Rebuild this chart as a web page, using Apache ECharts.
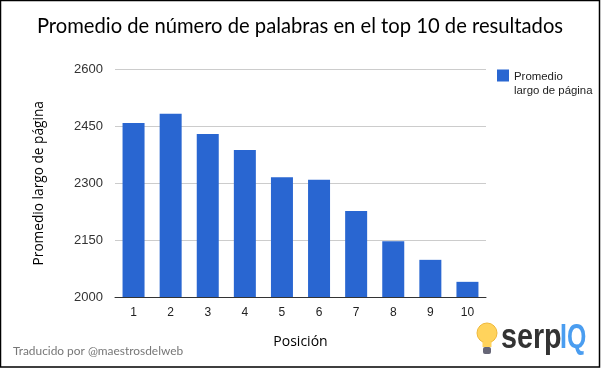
<!DOCTYPE html>
<html><head><meta charset="utf-8">
<style>html,body{margin:0;padding:0;background:#fff}#c{width:601px;height:368px}</style>
<script src="https://cdn.jsdelivr.net/npm/echarts@6/dist/echarts.min.js"></script>
</head><body><div id="c"></div>
<script>
const categories = ['1','2','3','4','5','6','7','8','9','10'];
const promedio = [2459,2483,2430,2388,2316,2309,2227,2147,2098,2040];
const chart = echarts.init(document.getElementById('c'), null, {renderer:'canvas'});
chart.setOption({
  animation:false,
  backgroundColor:'#fff',
  title:{text:'Promedio de número de palabras en el top 10 de resultados',left:295,top:11,textAlign:'center',
    textStyle:{fontFamily:'Lato',fontSize:20.2,fontWeight:'normal',color:'#000'}},
  grid:{left:115,right:115,top:69.5,bottom:71,containLabel:false},
  legend:{show:true,left:497,top:69,padding:0,orient:'vertical',itemWidth:12,itemHeight:28,itemGap:0,
    textStyle:{fontFamily:'Liberation Sans',fontSize:11.4,color:'#222',lineHeight:14,padding:[1,0,0,0]},
    icon:'path://M0,0H12V12H0Z M0,28H0.01V28H0Z'},
  xAxis:{type:'category',data:categories,
    name:'Posición',nameLocation:'middle',nameGap:38,
    nameTextStyle:{fontFamily:'Open Sans',fontSize:14,color:'#000'},
    axisLine:{lineStyle:{color:'#333',width:1}},axisTick:{show:false},
    axisLabel:{margin:10,fontFamily:'Liberation Sans',fontSize:12,color:'#222'}},
  yAxis:{type:'value',min:2000,max:2600,interval:150,
    name:'Promedio largo de página',nameLocation:'middle',nameGap:69,
    nameTextStyle:{fontFamily:'Open Sans',fontSize:13.7,color:'#000'},
    axisLine:{show:false},axisTick:{show:false},
    splitLine:{lineStyle:{color:'#ccc',width:1}},
    axisLabel:{margin:12,fontFamily:'Liberation Sans',fontSize:13,color:'#333',formatter:v=>String(v)}},
  series:[{name:'Promedio\nlargo de página',type:'bar',data:promedio,barWidth:22,
    itemStyle:{color:'#2966d1'}}],
  graphic:[
    {type:'rect',silent:true,z:100,shape:{x:0.5,y:0.5,width:599,height:366.5},style:{fill:'none',stroke:'#000',lineWidth:1.5}},
    {type:'text',x:13,y:345,style:{text:'Traducido por @maestrosdelweb',fontFamily:'Lato',fontSize:11.9,fill:'#777'}},
    {type:'text',x:501,y:321,scaleX:0.82,style:{text:'serp',fontFamily:'Liberation Sans',fontWeight:'bold',fontSize:35,fill:'#333'}},
    {type:'text',x:560,y:321,scaleX:0.71,style:{text:'IQ',fontFamily:'Liberation Sans',fontWeight:'bold',fontSize:35,fill:'#4a9df0'}},
    {type:'circle',shape:{cx:487,cy:333,r:10},style:{fill:'#ffd35c',stroke:'#f0b93a',lineWidth:1}},
    {type:'rect',shape:{x:482.5,y:342,width:9,height:5},style:{fill:'#ffd35c'}},
    {type:'rect',shape:{x:483,y:347,width:8,height:7,r:2},style:{fill:'#667'}}
  ]
});
</script></body></html>
